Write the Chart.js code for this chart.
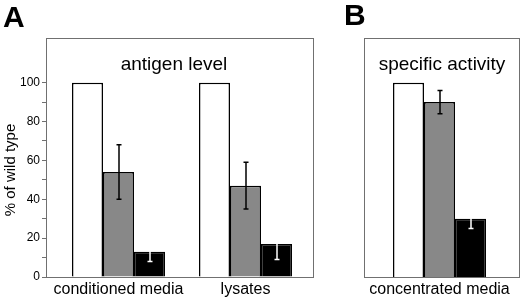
<!DOCTYPE html>
<html><head><meta charset="utf-8">
<script src="https://cdn.jsdelivr.net/npm/chart.js@4.4.1/dist/chart.umd.min.js"></script>
<style>
html,body{margin:0;padding:0;background:#fff;}
body{width:520px;height:300px;position:relative;overflow:hidden;font-family:"Liberation Sans",Arial,sans-serif;}
.abs{position:absolute;white-space:nowrap;line-height:1;color:#000;}
canvas{display:block;}
</style></head><body>
<div class="abs" style="left:0;top:0"><canvas id="cA" width="320" height="300"></canvas></div>
<div class="abs" style="left:320px;top:0"><canvas id="cB" width="200" height="300"></canvas></div>
<div class="abs" style="left:3px;top:2px;font-size:30px;font-weight:bold">A</div>
<div class="abs" style="left:344px;top:0px;font-size:30px;font-weight:bold">B</div>
<div class="abs" style="left:174px;top:54px;font-size:19px;transform:translateX(-50%)">antigen level</div>
<div class="abs" style="left:442px;top:54px;font-size:19px;transform:translateX(-50%)">specific activity</div>
<div class="abs" style="left:9px;top:170px;font-size:15px;transform:translate(-50%,-50%) rotate(-90deg)">% of wild type</div>
<script>
// ---- data ----
const categoriesA = ['conditioned media', 'lysates'];
const wildTypeA = [100, 100];
const grayA = [54, 47];
const grayLowA = [40, 35];
const grayHighA = [68, 59];
const blackA = [13, 17];
const blackLowA = [8, 9];
const blackHighA = [18, 27];

const categoriesB = ['concentrated media'];
const wildTypeB = [100];
const grayB = [90];
const grayLowB = [84];
const grayHighB = [96];
const blackB = [30];
const blackLowB = [25];
const blackHighB = [34];

const yTicks = [0, 10, 20, 30, 40, 50, 60, 70, 80, 90, 100];
const yLabelStep = 20;
const yMax = 123;

Chart.defaults.font.family = '"Liberation Sans", Arial, sans-serif';

const FRAME = '#707070';

const framePlugin = {
  id: 'frame',
  afterDatasetsDraw(chart) {
    const ctx = chart.ctx;
    const { left, top, right, bottom } = chart.chartArea;
    const l = Math.floor(left) + 0.5, r = Math.floor(right) - 0.5;
    const t = Math.floor(top) + 0.5, b = Math.floor(bottom) + 0.5;
    ctx.save();
    ctx.strokeStyle = FRAME;
    ctx.lineWidth = 1;
    ctx.strokeRect(l, t, r - l, b - t);
    ctx.restore();
  }
};

function errorBarPlugin(errs) {
  return {
    id: 'errbars',
    afterDatasetsDraw(chart) {
      const ctx = chart.ctx, ys = chart.scales.y;
      errs.forEach(e => {
        const meta = chart.getDatasetMeta(e.dataset);
        meta.data.forEach((bar, i) => {
          const x = Math.round(bar.x);
          const yl = ys.getPixelForValue(e.low[i]);
          const yh = ys.getPixelForValue(e.high[i]);
          ctx.save();
          ctx.strokeStyle = e.color;
          ctx.lineWidth = 1.5;
          ctx.beginPath();
          ctx.moveTo(x, yl); ctx.lineTo(x, yh);
          ctx.moveTo(x - 2.5, yh); ctx.lineTo(x + 2.5, yh);
          ctx.moveTo(x - 2.5, yl); ctx.lineTo(x + 2.5, yl);
          ctx.stroke();
          ctx.restore();
        });
      });
    }
  };
}

function pts(arr) { return arr.map((v, i) => ({ x: i, y: v })); }

function makeDatasets(w, g, k, catPct) {
  const common = { borderColor: '#000', borderWidth: 1.5, barPercentage: 1, categoryPercentage: catPct };
  return [
    Object.assign({ label: 'wild type', data: pts(w), backgroundColor: '#ffffff' }, common),
    Object.assign({ label: 'mutant 1', data: pts(g), backgroundColor: '#888888' }, common),
    Object.assign({ label: 'mutant 2', data: pts(k), backgroundColor: '#000000' }, common)
  ];
}

function xScale(cats, min, max) {
  return {
    type: 'linear', min: min, max: max, offset: false,
    afterBuildTicks: s => { s.ticks = cats.map((c, i) => ({ value: i })); },
    afterFit: s => { s.height = 23; },
    ticks: { callback: v => (cats[v] !== undefined ? cats[v] : ''), font: { size: 16 }, color: '#000', padding: 3, autoSkip: false, maxRotation: 0, minRotation: 0 },
    grid: { display: false, drawTicks: false, offset: false },
    border: { display: false }
  };
}

// Panel A
new Chart(document.getElementById('cA'), {
  type: 'bar',
  data: { datasets: makeDatasets(wildTypeA, grayA, blackA, 93 / 127) },
  options: {
    responsive: false, animation: false,
    layout: { padding: { left: 0, right: 6, top: 38, bottom: 0 } },
    plugins: { legend: { display: false }, tooltip: { enabled: false } },
    scales: {
      x: xScale(categoriesA, -72.5 / 127, -72.5 / 127 + 268 / 127),
      y: {
        min: 0, max: yMax,
        afterBuildTicks: s => { s.ticks = yTicks.map(v => ({ value: v })); },
        afterFit: s => { s.width = 46; },
        ticks: { callback: v => (v % yLabelStep === 0 ? String(v) : ''), font: { size: 12 }, color: '#000', padding: 2, autoSkip: false },
        grid: { drawOnChartArea: false, drawTicks: true, tickLength: 4, color: FRAME, tickColor: FRAME },
        border: { display: false }
      }
    }
  },
  plugins: [framePlugin, errorBarPlugin([
    { dataset: 1, low: grayLowA, high: grayHighA, color: '#000' },
    { dataset: 2, low: blackLowA, high: blackHighA, color: '#fff' }
  ])]
});

// Panel B
new Chart(document.getElementById('cB'), {
  type: 'bar',
  data: { datasets: makeDatasets(wildTypeB, grayB, blackB, 93 / 156) },
  options: {
    responsive: false, animation: false,
    layout: { padding: { left: 44, right: 0, top: 38, bottom: 0 } },
    plugins: { legend: { display: false }, tooltip: { enabled: false } },
    scales: {
      x: xScale(categoriesB, -75.5 / 156, 1 - 75.5 / 156),
      y: { display: false, min: 0, max: yMax }
    }
  },
  plugins: [framePlugin, errorBarPlugin([
    { dataset: 1, low: grayLowB, high: grayHighB, color: '#000' },
    { dataset: 2, low: blackLowB, high: blackHighB, color: '#fff' }
  ])]
});
</script>
</body></html>
